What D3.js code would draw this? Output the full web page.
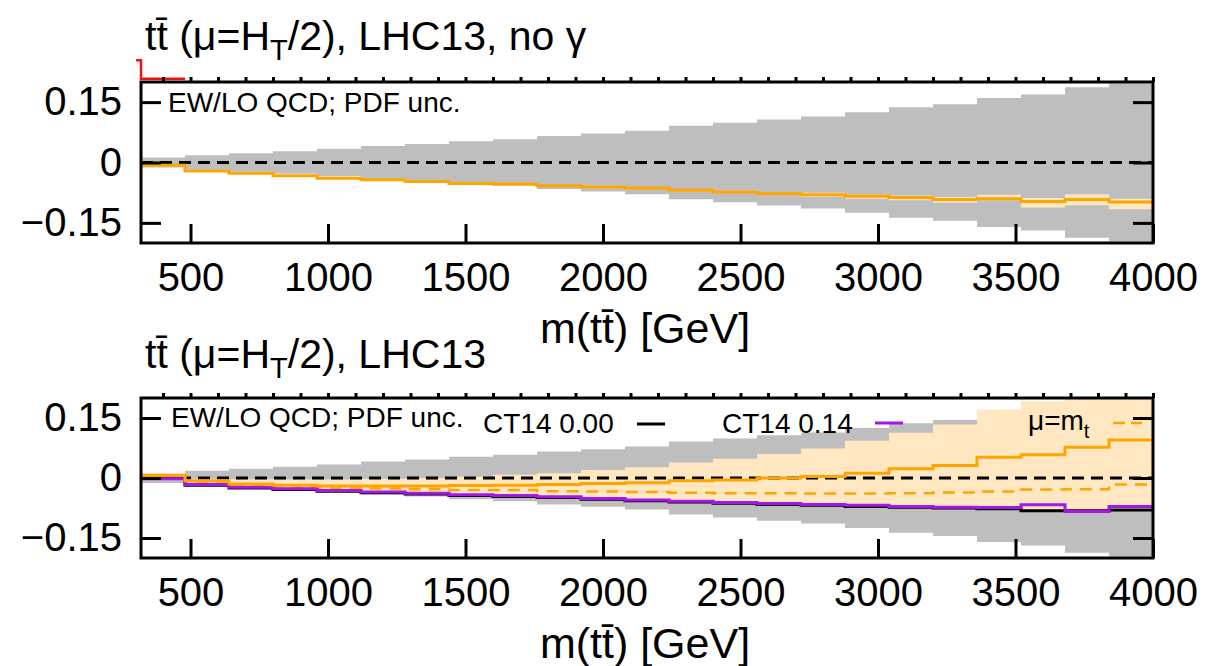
<!DOCTYPE html>
<html lang="en">
<head>
<meta charset="UTF-8" />
<title>ttbar EW/LO QCD</title>
<script src="https://d3js.org/d3.v7.min.js"></script>
<style>
  html, body { margin: 0; padding: 0; background: #fff; overflow: hidden; }
  svg { display: block; background: #fff; font-family: 'Liberation Sans', Arial, Helvetica, sans-serif; }
  .tick text { font-family: 'Liberation Sans', Arial, sans-serif; fill: #000; }
</style>
</head>
<body>
<svg id="chart" width="1211" height="666"></svg>
<script>
// bin edges of m(tt) in GeV
const binEdges = [320, 480, 640, 800, 960, 1120, 1280, 1440, 1600, 1760, 1920, 2080,
  2240, 2400, 2560, 2720, 2880, 3040, 3200, 3360, 3520, 3680, 3840, 4000];

// PDF uncertainty (symmetric, grey band) - same in both panels
const pdfUnc = [0.0125, 0.018, 0.023, 0.028, 0.034, 0.041, 0.046, 0.053, 0.058, 0.066, 0.072,
  0.079, 0.091, 0.099, 0.107, 0.114, 0.125, 0.137, 0.145, 0.160, 0.169, 0.187, 0.196];

// top panel: no photon
const topEwLo = [-0.007, -0.021, -0.027, -0.033, -0.039, -0.043, -0.047, -0.052, -0.054, -0.058, -0.061,
  -0.064, -0.069, -0.073, -0.077, -0.080, -0.084, -0.087, -0.092, -0.090, -0.097, -0.092, -0.098];
const topBandHi = [-0.005, -0.019, -0.025, -0.031, -0.037, -0.041, -0.045, -0.050, -0.052, -0.056, -0.058,
  -0.061, -0.066, -0.070, -0.073, -0.075, -0.080, -0.082, -0.086, -0.080, -0.088, -0.079, -0.090];
const topBandLo = [-0.009, -0.023, -0.030, -0.035, -0.041, -0.045, -0.050, -0.054, -0.057, -0.061, -0.064,
  -0.067, -0.072, -0.076, -0.081, -0.085, -0.090, -0.094, -0.100, -0.094, -0.112, -0.106, -0.116];
// stray red segment above the top frame
const redEdges = [302, 320, 480];
const redVals = [0.254, 0.208];

// bottom panel: with photon
const botEwLo = [0.006, -0.007, -0.015, -0.018, -0.020, -0.020, -0.020, -0.019, -0.018, -0.0165, -0.014,
  -0.012, -0.007, -0.005, 0.000, 0.004, 0.012, 0.023, 0.031, 0.052, 0.058, 0.077, 0.095];
const botBandHi = [0.012, -0.002, -0.003, -0.004, -0.004, -0.002, 0.000, 0.003, 0.008, 0.012, 0.020,
  0.027, 0.039, 0.048, 0.060, 0.074, 0.093, 0.113, 0.134, 0.171, 0.192, 0.230, 0.240];
const botBandLo = [-0.003, -0.019, -0.026, -0.030, -0.034, -0.038, -0.041, -0.045, -0.047, -0.050, -0.054,
  -0.058, -0.061, -0.064, -0.067, -0.069, -0.072, -0.074, -0.076, -0.078, -0.083, -0.084, -0.081];
const botMuMt = [0.003, -0.010, -0.018, -0.022, -0.025, -0.026, -0.028, -0.030, -0.030, -0.033, -0.034,
  -0.035, -0.037, -0.038, -0.038, -0.039, -0.039, -0.038, -0.036, -0.034, -0.029, -0.028, -0.016];
const botCT14_000 = [0.000, -0.018, -0.025, -0.029, -0.033, -0.037, -0.040, -0.044, -0.046, -0.049, -0.053,
  -0.057, -0.060, -0.063, -0.066, -0.068, -0.071, -0.073, -0.075, -0.077, -0.082, -0.082, -0.080];
const botCT14_014 = [-0.002, -0.016, -0.023, -0.027, -0.031, -0.035, -0.038, -0.042, -0.044, -0.047, -0.051,
  -0.055, -0.058, -0.061, -0.064, -0.066, -0.068, -0.071, -0.073, -0.074, -0.067, -0.084, -0.071];

const xMajor = [500, 1000, 1500, 2000, 2500, 3000, 3500, 4000];
const xMinor = [400, 600, 700, 800, 900, 1100, 1200, 1300, 1400, 1600, 1700, 1800, 1900, 2100, 2200,
  2300, 2400, 2600, 2700, 2800, 2900, 3100, 3200, 3300, 3400, 3600, 3700, 3800, 3900];
const yMajor = [-0.15, 0, 0.15];
const yMinor = [-0.075, 0.075];

const C = { grey: "#bebebe", orange: "#ffa500", band: "#fee7c1", purple: "#a516e8", red: "#ee1111" };
const FONT = "'Liberation Sans', Arial, sans-serif";

const svg = d3.select("#chart");
const x = d3.scaleLinear().domain([320, 4000]).range([141, 1153]);

function steps(vals) {
  return binEdges.map((e, i) => ({ e, v: vals[Math.min(i, vals.length - 1)] }));
}
function bandPts(lo, hi) {
  return binEdges.map((e, i) => { const k = Math.min(i, lo.length - 1); return { e, lo: lo[k], hi: hi[k] }; });
}

function panel(id, y0, y1, drawSeries) {
  const y = d3.scaleLinear().domain([-0.2, 0.2]).range([y1, y0]);
  const g = svg.append("g");
  g.append("clipPath").attr("id", id).append("rect")
    .attr("x", x.range()[0]).attr("y", y0).attr("width", x.range()[1] - x.range()[0]).attr("height", y1 - y0);
  const plot = g.append("g").attr("clip-path", `url(#${id})`);

  const line = d3.line().curve(d3.curveStepAfter).x(d => x(d.e)).y(d => y(d.v));
  const area = d3.area().curve(d3.curveStepAfter).x(d => x(d.e)).y0(d => y(d.lo)).y1(d => y(d.hi));

  // grey PDF band
  plot.append("path").attr("d", area(bandPts(pdfUnc.map(v => -v), pdfUnc))).attr("fill", C.grey);
  drawSeries(plot, g, line, area, y);

  // axes
  const bottom = g.append("g").attr("transform", `translate(0,${y1})`);
  bottom.call(d3.axisBottom(x).tickValues(xMinor).tickSize(-9.5).tickFormat(""));
  bottom.call(d3.axisBottom(x).tickValues(xMajor).tickSize(-19).tickPadding(20).tickFormat(d3.format("d")));
  const top = g.append("g").attr("transform", `translate(0,${y0})`);
  top.call(d3.axisTop(x).tickValues(xMajor.concat(xMinor)).tickSize(5).tickFormat(""));
  const left = g.append("g").attr("transform", `translate(${x.range()[0]},0)`);
  left.call(d3.axisLeft(y).tickValues(yMinor).tickSize(-10).tickFormat(""));
  left.call(d3.axisLeft(y).tickValues(yMajor).tickSize(-20).tickPadding(19)
    .tickFormat(d => d === 0 ? "0" : d3.format(".2f")(d)));
  const right = g.append("g").attr("transform", `translate(${x.range()[1]},0)`);
  right.call(d3.axisRight(y).tickValues(yMinor).tickSize(-10).tickFormat(""));
  right.call(d3.axisRight(y).tickValues(yMajor).tickSize(-20).tickFormat(""));
  g.selectAll(".domain").remove();
  g.selectAll(".tick line").attr("stroke", "#000").attr("stroke-width", 3);
  g.selectAll(".tick text").attr("font-size", 40).attr("font-family", FONT);

  g.append("rect").attr("x", x.range()[0]).attr("y", y0)
    .attr("width", x.range()[1] - x.range()[0]).attr("height", y1 - y0)
    .attr("fill", "none").attr("stroke", "#000").attr("stroke-width", 3);
  return y;
}

function zeroLine(plot, y) {
  plot.append("line").attr("x1", x.range()[0]).attr("x2", x.range()[1])
    .attr("y1", y(0)).attr("y2", y(0))
    .attr("stroke", "#000").attr("stroke-width", 3).attr("stroke-dasharray", "12,7");
}

function text(sel, xp, yp, size) {
  return sel.append("text").attr("x", xp).attr("y", yp).attr("font-size", size)
    .attr("font-family", FONT).attr("fill", "#000");
}

function title(yb, suffix) {
  const t = text(svg, 145, yb, 41);
  t.append("tspan").text("tt\u0304 (\u03bc=H");
  t.append("tspan").attr("font-size", 29).attr("dy", 10).text("T");
  t.append("tspan").attr("dy", -10).text("/2), LHC13" + suffix);
}

function xTitle(yb) {
  text(svg, 645, yb, 43).attr("text-anchor", "middle").text("m(tt\u0304) [GeV]");
}

// ---------- top panel ----------
title(50, ", no \u03b3");
panel("clipTop", 82, 243, (plot, g, line, area, y) => {
  plot.append("path").attr("d", area(bandPts(topBandLo, topBandHi))).attr("fill", C.band);
  zeroLine(plot, y);
  plot.append("path").attr("d", line(steps(topEwLo)))
    .attr("fill", "none").attr("stroke", C.orange).attr("stroke-width", 3);
  const red = redEdges.map((e, i) => ({ e, v: redVals[Math.min(i, redVals.length - 1)] }));
  g.append("path").attr("d", line(red)).attr("fill", "none").attr("stroke", C.red).attr("stroke-width", 2.5);
  text(g, 168, 112, 28).text("EW/LO QCD; PDF unc.");
});
xTitle(343);

// ---------- bottom panel ----------
title(368, "");
panel("clipBot", 398, 558, (plot, g, line, area, y) => {
  plot.append("path").attr("d", area(bandPts(botBandLo, botBandHi))).attr("fill", C.band);
  zeroLine(plot, y);
  plot.append("path").attr("d", line(steps(botMuMt)))
    .attr("fill", "none").attr("stroke", C.orange).attr("stroke-width", 2.5).attr("stroke-dasharray", "12,8");
  plot.append("path").attr("d", line(steps(botCT14_000)))
    .attr("fill", "none").attr("stroke", "#000").attr("stroke-width", 3);
  plot.append("path").attr("d", line(steps(botCT14_014)))
    .attr("fill", "none").attr("stroke", C.purple).attr("stroke-width", 3);
  plot.append("path").attr("d", line(steps(botEwLo)))
    .attr("fill", "none").attr("stroke", C.orange).attr("stroke-width", 3);

  // legend
  text(g, 171, 427, 28).text("EW/LO QCD; PDF unc.");
  text(g, 483, 433, 28).text("CT14 0.00");
  g.append("line").attr("x1", 637).attr("x2", 665).attr("y1", 424).attr("y2", 424)
    .attr("stroke", "#000").attr("stroke-width", 3);
  text(g, 722, 433, 28).text("CT14 0.14");
  g.append("line").attr("x1", 875).attr("x2", 903).attr("y1", 423).attr("y2", 423)
    .attr("stroke", C.purple).attr("stroke-width", 3);
  const mu = text(g, 1028, 430, 28);
  mu.append("tspan").text("\u03bc=m");
  mu.append("tspan").attr("font-size", 20).attr("dy", 8).text("t");
  g.append("line").attr("x1", 1113).attr("x2", 1142).attr("y1", 423).attr("y2", 423)
    .attr("stroke", C.orange).attr("stroke-width", 2.5).attr("stroke-dasharray", "12,6");
});
xTitle(658);
</script>
</body>
</html>
